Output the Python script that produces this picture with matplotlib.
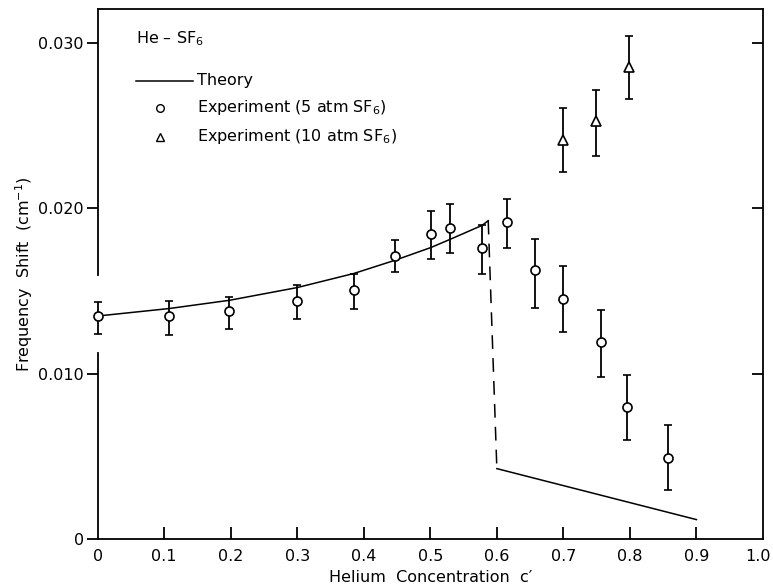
# He - SF6 frequency shift vs helium concentration

import numpy as np
import matplotlib
matplotlib.use('Agg')
import matplotlib.pyplot as plt
import matplotlib.transforms as mtransforms

# experiment, 5 atm SF6 (circles)
x5 = [0.0, 0.107, 0.198, 0.300, 0.385, 0.447, 0.501, 0.529, 0.578,
      0.615, 0.657, 0.700, 0.756, 0.795, 0.858]
y5 = [0.01347, 0.01349, 0.01378, 0.01442, 0.01505, 0.01712, 0.01847, 0.01883, 0.01760,
      0.01917, 0.01625, 0.01454, 0.01189, 0.00799, 0.00494]
lo5 = [0.01243, 0.01237, 0.01269, 0.01329, 0.01390, 0.01612, 0.01696, 0.01732, 0.01601,
       0.01760, 0.01398, 0.01253, 0.00981, 0.00598, 0.00300]
hi5 = [0.01434, 0.01442, 0.01464, 0.01535, 0.01601, 0.01807, 0.01982, 0.02028, 0.01897,
       0.02059, 0.01813, 0.01650, 0.01388, 0.00991, 0.00693]

# experiment, 10 atm SF6 (triangles)
x10 = [0.700, 0.749, 0.799]
y10 = [0.02411, 0.02526, 0.02854]
lo10 = [0.02219, 0.02318, 0.02659]
hi10 = [0.02608, 0.02713, 0.03040]

# theory curve (solid, dashed drop, solid tail)
th_x = [0.0, 0.107, 0.198, 0.300, 0.385, 0.447, 0.501, 0.529, 0.578, 0.587]
th_y = [0.01349, 0.01394, 0.01444, 0.01521, 0.01606, 0.01686, 0.01763, 0.01811, 0.01897, 0.01925]
drop_x = [0.587, 0.600]
drop_y = [0.01925, 0.00427]
tail_x = [0.600, 0.900]
tail_y = [0.00427, 0.00119]

xticks = [0, 0.1, 0.2, 0.3, 0.4, 0.5, 0.6, 0.7, 0.8, 0.9, 1.0]
xtick_labels = ['0', '0.1', '0.2', '0.3', '0.4', '0.5', '0.6', '0.7', '0.8', '0.9', '1.0']
yticks = [0, 0.010, 0.020, 0.030]
ytick_labels = ['0', '0.010', '0.020', '0.030']

fs = 11.5
lw = 1.3

fig = plt.figure(figsize=(7.73, 5.86), dpi=100)
ax = fig.add_axes([0.1264, 0.0797, 0.8606, 0.9044])
ax.set_xlim(0, 1.0)
ax.set_ylim(0, 0.03202)

# theory
ax.plot(th_x, th_y, color='black', lw=1.1, zorder=2)
ax.plot(drop_x, drop_y, color='black', lw=1.1, dashes=(9, 6), zorder=2)
ax.plot(tail_x, tail_y, color='black', lw=1.1, zorder=2)

# data with error bars
y5a = np.array(y5)
ax.errorbar(x5, y5, yerr=[y5a - np.array(lo5), np.array(hi5) - y5a], fmt='o',
            ms=6.5, mfc='white', mec='black', mew=1.2, ecolor='black',
            elinewidth=1.3, capsize=3, capthick=1.3, zorder=3, clip_on=False)
y10a = np.array(y10)
ax.errorbar(x10, y10, yerr=[y10a - np.array(lo10), np.array(hi10) - y10a], fmt='^',
            ms=7, mfc='white', mec='black', mew=1.2, ecolor='black',
            elinewidth=1.3, capsize=3, capthick=1.3, zorder=3)

# frame: left spine has a gap around the x=0 point
ax.spines['left'].set_visible(False)
for s in ['top', 'right', 'bottom']:
    ax.spines[s].set_linewidth(lw)
ax.plot([0, 0], [0, 0.01124], color='black', lw=lw, clip_on=False, zorder=4)
ax.plot([0, 0], [0.01595, 0.03202], color='black', lw=lw, clip_on=False, zorder=4)

# ticks
ax.set_xticks(xticks)
ax.set_xticklabels(xtick_labels, fontsize=fs)
ax.set_yticks(yticks)
ax.set_yticklabels(ytick_labels, fontsize=fs)
ax.tick_params(axis='x', direction='in', length=9, width=lw, pad=7)
ax.tick_params(axis='y', direction='out', length=8, width=lw, pad=2)
for t in ax.xaxis.get_major_ticks():
    if t.get_loc() in (0, 1.0):
        t.tick1line.set_visible(False)
for t in ax.yaxis.get_major_ticks():
    if t.get_loc() == 0:
        t.tick1line.set_visible(False)

# keep the "1.0" label inside the figure
last = ax.get_xticklabels()[-1]
last.set_transform(last.get_transform() +
                   mtransforms.ScaledTranslation(-5 / 100, 0, fig.dpi_scale_trans))

# right-side inward ticks
axr = ax.twinx()
axr.set_ylim(ax.get_ylim())
axr.set_yticks(yticks[1:])
axr.set_yticklabels([])
axr.tick_params(axis='y', direction='in', length=8, width=lw)
for s in axr.spines.values():
    s.set_visible(False)

ax.set_xlabel("Helium  Concentration  c\u2032", fontsize=fs, labelpad=4)
ax.set_ylabel(r"Frequency  Shift  (cm$^{-1}$)", fontsize=fs, labelpad=2)

# in-plot legend
ax.text(0.057, 0.944, "He \u2013 SF$_6$", transform=ax.transAxes, fontsize=fs, va='center')
ax.plot([0.058, 0.143], [0.864, 0.864], transform=ax.transAxes, color='black', lw=1.1)
ax.text(0.150, 0.866, "Theory", transform=ax.transAxes, fontsize=fs, va='center')
ax.plot([0.093], [0.813], transform=ax.transAxes, marker='o', ms=5.5, mfc='white',
        mec='black', mew=1.0, ls='none')
ax.text(0.150, 0.815, r"Experiment (5 atm SF$_6$)", transform=ax.transAxes,
        fontsize=fs, va='center')
ax.plot([0.093], [0.760], transform=ax.transAxes, marker='^', ms=6, mfc='white',
        mec='black', mew=1.0, ls='none')
ax.text(0.150, 0.760, r"Experiment (10 atm SF$_6$)", transform=ax.transAxes,
        fontsize=fs, va='center')

fig.savefig('out.png', dpi=100)
